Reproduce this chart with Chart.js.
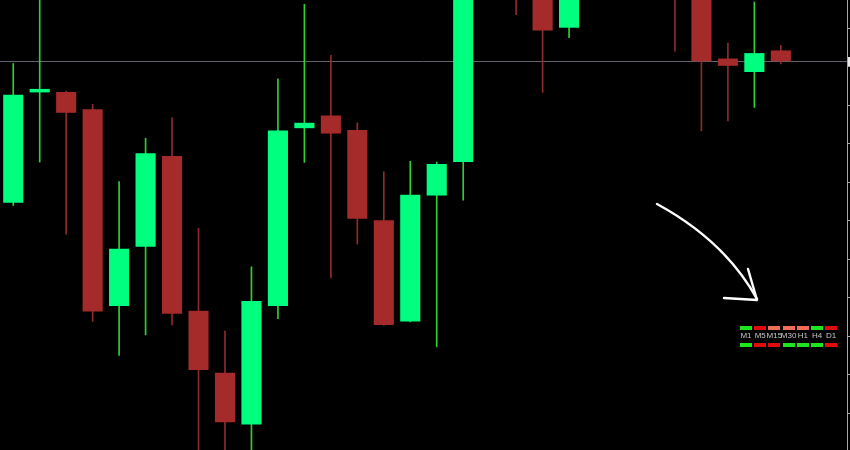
<!DOCTYPE html>
<html>
<head>
<meta charset="utf-8">
<script src="https://cdn.jsdelivr.net/npm/chart.js@4.4.1/dist/chart.umd.min.js"></script>
<style>
  html, body { margin: 0; padding: 0; background: #000; }
  #wrap { position: relative; width: 850px; height: 450px; overflow: hidden; background: #000; }
  #chart { display: block; }
  #arrow { position: absolute; left: 0; top: 0; pointer-events: none; }
  #tf { position: absolute; left: 739px; top: 326px; width: 100px; height: 24px; }
  #tf .col { position: absolute; top: 0; width: 14px; height: 24px; }
  #tf .bar { position: absolute; left: 1px; width: 12px; height: 3.5px; }
  #tf .lbl { position: absolute; left: -4px; width: 22px; top: 5px; text-align: center;
             font: 8px "Liberation Sans", Arial, sans-serif; color: #c8c8c8; line-height: 10px; }
</style>
</head>
<body>
<div id="wrap">
  <canvas id="chart" width="850" height="450"></canvas>
  <svg id="arrow" width="850" height="450">
    <path d="M657 204 Q725 241 757 299" fill="none" stroke="#fff" stroke-width="2.4" stroke-linecap="round"/>
    <path d="M724 298 L757 300 L748 269" fill="none" stroke="#fff" stroke-width="2.4" stroke-linecap="round" stroke-linejoin="round"/>
  </svg>
  <div id="tf"></div>
</div>
<script>
(function () {
    // OHLC (price units, 1 tick = 1.00)
    var open  = [105.46, 108.33, 108.34, 107.89, 102.78, 104.32, 106.68, 102.66, 101.05, 99.70,
                 102.78, 107.40, 107.73, 107.35, 105.01, 102.38, 105.65, 106.52, 111.40, 112.00,
                 111.20, 110.01, 111.00, 111.80, 111.30, 111.60, 111.00, 109.21, 108.86, 109.42];
    var high  = [109.08, 111.00, 108.36, 108.02, 106.01, 107.14, 107.67, 104.80, 102.13, 103.80,
                 108.68, 110.62, 109.29, 107.54, 106.27, 106.54, 106.52, 111.60, 112.30, 112.40,
                 111.30, 111.30, 112.10, 112.00, 111.90, 111.80, 111.20, 109.61, 110.68, 109.55];
    var low   = [105.39, 106.52, 104.65, 102.38, 101.50, 102.03, 102.29, 98.60, 98.80, 98.90,
                 102.45, 106.51, 103.51, 104.39, 102.28, 102.37, 101.72, 105.53, 110.90, 110.35,
                 108.33, 109.75, 110.80, 110.90, 110.90, 109.40, 107.33, 107.59, 107.94, 109.07];
    var close = [108.27, 108.42, 107.80, 102.64, 104.27, 106.75, 102.58, 101.12, 99.76, 102.91,
                 107.34, 107.54, 107.26, 105.05, 102.29, 105.67, 106.47, 111.40, 112.00, 111.20,
                 109.94, 111.00, 111.80, 111.30, 111.60, 111.00, 109.14, 109.02, 109.35, 109.14];
    var bars = ['01', '02', '03', '04', '05', '06', '07', '08', '09', '10', '11', '12', '13', '14', '15', '16',
                '17', '18', '19', '20', '21', '22', '23', '24', '25', '26', '27', '28', '29', '30', '31', '32'];
    var yMin = 99.04;
    var yMax = 110.73;

    // timeframe trend panel
    var tfLabels = ['M1', 'M5', 'M15', 'M30', 'H1', 'H4', 'D1'];
    var tfTop    = ['up', 'down', 'weak', 'weak', 'weak', 'up', 'down'];
    var tfBottom = ['up', 'down', 'down', 'up', 'up', 'up', 'down'];

    var bull = '#00ff7f';
    var bear = '#a52a2a';
    var bullWick = '#2ed12e';
    var bearWick = '#8e2b2b';
    var tfColors = { up: '#1de61d', down: '#e00b0b', weak: '#f06e58' };

    var bodies = open.map(function (o, i) { return [o, close[i]]; });
    var wicks = low.map(function (l, i) { return [l, high[i]]; });
    var isUp = open.map(function (o, i) { return close[i] >= o; });
    var bid = close[close.length - 1];

    var bidLine = {
        id: 'bidLine',
        beforeDatasetsDraw: function (chart) {
            var ctx = chart.ctx;
            var area = chart.chartArea;
            var y = Math.round(chart.scales.y.getPixelForValue(bid)) + 0.5;
            ctx.save();
            ctx.strokeStyle = '#62626e';
            ctx.lineWidth = 1;
            ctx.beginPath();
            ctx.moveTo(area.left, y);
            ctx.lineTo(area.right, y);
            ctx.stroke();
            ctx.fillStyle = '#e8e8e8';
            ctx.fillRect(area.right + 1, y - 4.5, 3, 9);
            ctx.restore();
        }
    };

    new Chart(document.getElementById('chart'), {
        type: 'bar',
        data: {
            labels: bars,
            datasets: [
                {
                    label: 'Body',
                    data: bodies,
                    backgroundColor: isUp.map(function (u) { return u ? bull : bear; }),
                    borderWidth: 0,
                    grouped: false,
                    barPercentage: 0.76,
                    categoryPercentage: 1
                },
                {
                    label: 'Wick',
                    data: wicks,
                    backgroundColor: isUp.map(function (u) { return u ? bullWick : bearWick; }),
                    borderWidth: 0,
                    grouped: false,
                    barThickness: 1
                }
            ]
        },
        options: {
            responsive: false,
            animation: false,
            layout: { padding: 0 },
            plugins: { legend: { display: false }, tooltip: { enabled: false } },
            scales: {
                x: { display: false, offset: true },
                y: {
                    position: 'right',
                    min: yMin,
                    max: yMax,
                    ticks: { display: false, stepSize: 1, includeBounds: false },
                    grid: { drawOnChartArea: false, drawTicks: true, tickLength: 3, color: '#a8a8a8' },
                    border: { display: true, color: '#a8a8a8', width: 1 }
                }
            }
        },
        plugins: [bidLine]
    });

    var panel = document.getElementById('tf');
    tfLabels.forEach(function (name, i) {
        var col = document.createElement('div');
        col.className = 'col';
        col.style.left = (i * 14.2) + 'px';
        var top = document.createElement('div');
        top.className = 'bar';
        top.style.top = '0px';
        top.style.background = tfColors[tfTop[i]];
        var lbl = document.createElement('div');
        lbl.className = 'lbl';
        lbl.textContent = name;
        var bot = document.createElement('div');
        bot.className = 'bar';
        bot.style.top = '17px';
        bot.style.background = tfColors[tfBottom[i]];
        col.appendChild(top);
        col.appendChild(lbl);
        col.appendChild(bot);
        panel.appendChild(col);
    });
})();
</script>
</body>
</html>
